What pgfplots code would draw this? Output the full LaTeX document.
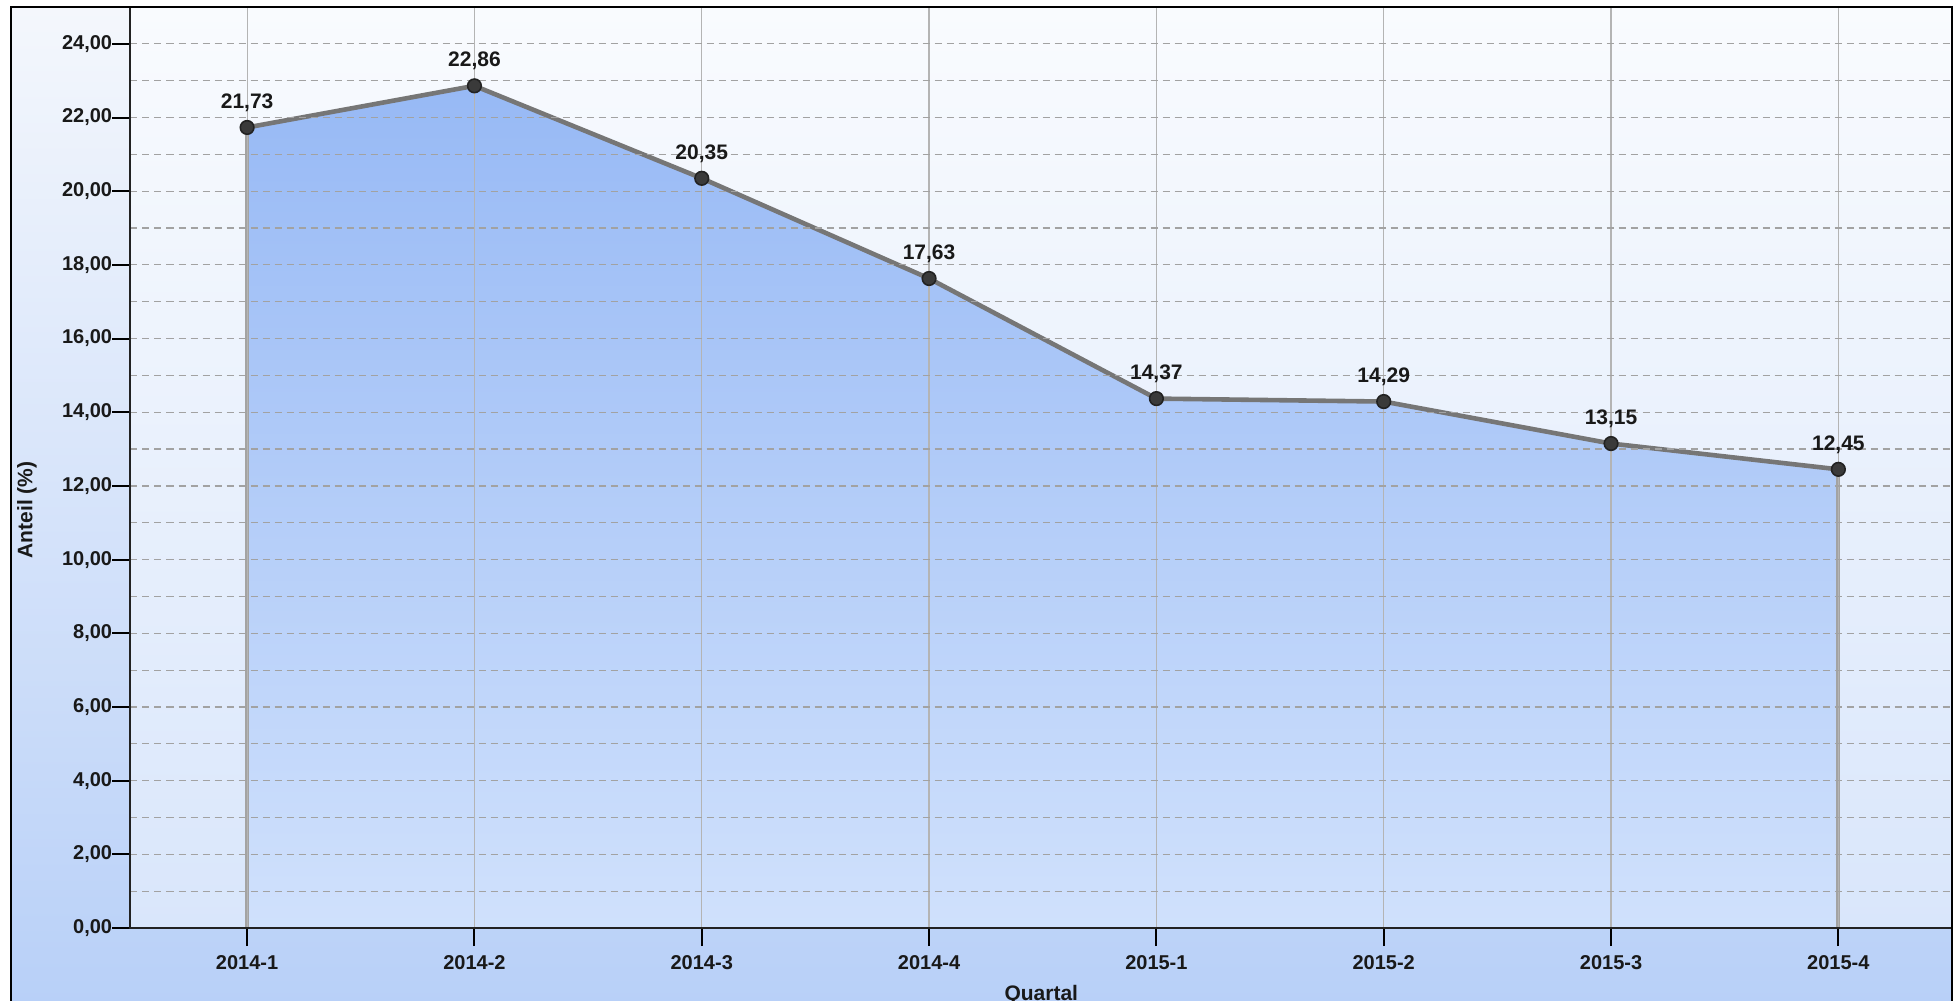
\documentclass[border=0pt]{standalone}
\usepackage{pgfplots}
\usepackage{pgfplotstable}
\pgfplotsset{compat=1.18}
\usepackage{fontspec}
\setmainfont{Liberation Sans}

\definecolor{bgtop}{HTML}{F4F7FC}
\definecolor{bgbot}{HTML}{B8D0F8}
\definecolor{plottop}{HTML}{F9FBFE}
\definecolor{plotbot}{HTML}{D9E6FB}
\definecolor{areatop}{HTML}{97B9F5}
\definecolor{areabot}{HTML}{D0E1FC}
\definecolor{linegray}{HTML}{767676}
\definecolor{edgegray}{HTML}{A3A3A3}
\definecolor{gridgray}{HTML}{A2A2A2}
\definecolor{vgrid}{HTML}{B4B4B4}
\definecolor{markfill}{HTML}{3A3A3A}
\definecolor{markdraw}{HTML}{222222}
\definecolor{axisdark}{HTML}{222222}

% Anteil je Quartal (0 = 2014-1 ... 7 = 2015-4)
\pgfplotstableread{
q v
0 21.73
1 22.86
2 20.35
3 17.63
4 14.37
5 14.29
6 13.15
7 12.45
}\anteil

\pgfplotsset{
  quartal axis/.style={
    at={(65.25pt,36.5pt)}, anchor=south west,
    scale only axis, width=910.75pt, height=460.5pt,
    xmin=-0.513, xmax=7.5, ymin=0, ymax=25,
    /pgf/number format/fixed,
    /pgf/number format/fixed zerofill,
    /pgf/number format/precision=2,
    /pgf/number format/use comma,
    /pgf/number format/assume math mode=true,
  },
}

\begin{document}
\begin{tikzpicture}
\path[use as bounding box] (0,0) rectangle (977pt,500.5pt);
% chart panel background
\shade[top color=bgtop, bottom color=bgbot] (5pt,-2pt) rectangle (976pt,497pt);

\begin{axis}[
  quartal axis,
  axis background/.style={top color=plottop, bottom color=plotbot},
  xtick={0,...,7},
  xticklabels={2014-1,2014-2,2014-3,2014-4,2015-1,2015-2,2015-3,2015-4},
  ytick={0,2,...,24},
  minor ytick={1,3,...,23},
  xmajorgrids, ymajorgrids, yminorgrids,
  x grid style={color=vgrid, line width=0.6pt},
  y grid style={color=gridgray, line width=0.6pt, dash pattern=on 3.5pt off 2.5pt},
  minor grid style={color=gridgray!85},
  axis on top,
  tick align=outside, tick pos=left,
  major tick length=9pt, minor tick length=0pt,
  tick style={black, line width=1pt},
  axis line style={axisdark, line width=1pt},
  ticklabel style={font=\fontsize{10}{12}\selectfont\bfseries, text=black!90},
  xticklabel style={inner sep=0pt, yshift=-4.5pt},
  yticklabel style={inner sep=0pt},
  xlabel={Quartal},
  xlabel style={at={(axis description cs:0.5,0)}, anchor=base, yshift=-36pt,
    font=\fontsize{10.5}{12}\selectfont\bfseries, text=black!90},
  ylabel={Anteil (\%)},
  ylabel style={at={(axis description cs:-0.0568,0.454)}, anchor=center,
    font=\fontsize{10.5}{12}\selectfont\bfseries, text=black!90},
]
  % filled area below the series
  \addplot[draw=none, top color=areatop, bottom color=areabot]
    table[x=q, y=v] {\anteil} \closedcycle;
  % side edges of the area
  \addplot[edgegray, line width=2pt] coordinates {(0,0) (0,21.73)};
  \addplot[edgegray, line width=2pt] coordinates {(7,0) (7,12.45)};
  % series line with markers
  \addplot[linegray, line width=2.3pt, mark=*, mark size=3.4pt,
    mark options={fill=markfill, draw=markdraw, line width=0.8pt, solid}]
    table[x=q, y=v] {\anteil};
\end{axis}

% value labels above the grid
\begin{axis}[
  quartal axis,
  hide axis,
]
  \addplot[draw=none, mark=none, nodes near coords,
    every node near coord/.append style={font=\fontsize{10.5}{12}\selectfont\bfseries,
      text=black!90, anchor=base, inner sep=0pt, yshift=9.5pt}]
    table[x=q, y=v] {\anteil};
\end{axis}

% panel frame
\draw[black, line width=1pt] (5.5pt,-2pt) -- (5.5pt,497pt) -- (976pt,497pt) -- (976pt,-2pt);
\end{tikzpicture}
\end{document}
